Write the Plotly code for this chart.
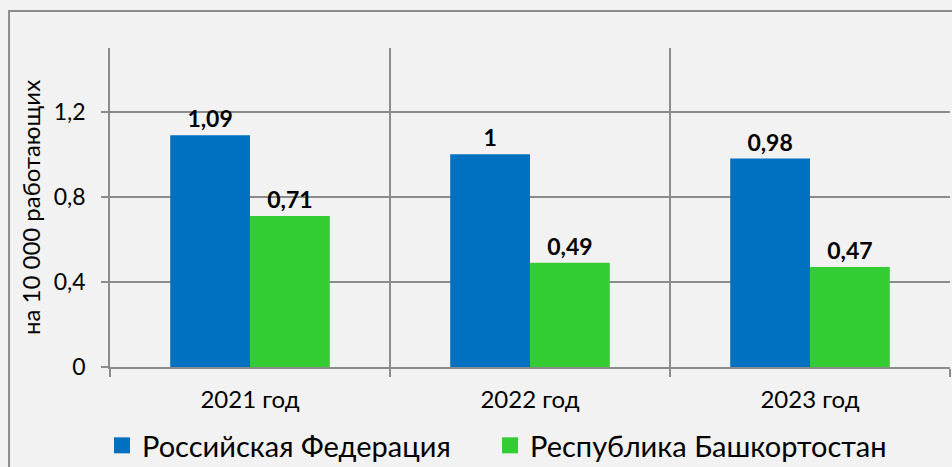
import plotly.graph_objects as go

categories = ["2021 год", "2022 год", "2023 год"]
rf_values = [1.09, 1.00, 0.98]
rb_values = [0.71, 0.49, 0.47]
series_names = ["Российская Федерация", "Республика Башкортостан"]
series_colors = ["#0070c0", "#33cc33"]
y_ticks = [0, 0.4, 0.8, 1.2]
y_tick_labels = ["0", "0,4", "0,8", "1,2"]
y_title = "на 10 000 работающих"

def fmt(v):
    return f"{v:g}".replace(".", ",")

FONT = "Lato, 'Open Sans', sans-serif"
GRID = "#8c8c8c"
BG = "#f2f2f2"

fig = go.Figure()
for name, vals, col in zip(series_names, [rf_values, rb_values], series_colors):
    fig.add_trace(go.Bar(
        x=categories, y=vals, name=name, showlegend=False,
        marker=dict(color=col, line=dict(width=0)),
        text=[fmt(v) for v in vals], textposition="outside",
        textfont=dict(size=23, color="black", family=FONT, weight="bold"),
        cliponaxis=False,
    ))
# legend entries (square swatches), each in its own legend box
for name, col, lg in zip(series_names, series_colors, ["legend", "legend2"]):
    fig.add_trace(go.Scatter(
        x=[None], y=[None], mode="markers", name=name, legend=lg,
        marker=dict(symbol="square", size=18, color=col),
    ))

legend_common = dict(orientation="h", xanchor="left", y=-0.246, yanchor="middle",
                     font=dict(size=29), bgcolor="rgba(0,0,0,0)", itemsizing="trace")
fig.update_layout(
    width=952, height=467,
    margin=dict(l=110, r=2, t=48, b=100, autoexpand=False),
    paper_bgcolor=BG, plot_bgcolor=BG,
    barmode="group", bargap=0.43, bargroupgap=0,
    font=dict(family=FONT, size=24, color="black"),
    showlegend=True,
    legend=dict(x=-0.0095, **legend_common),
    legend2=dict(x=0.4524, **legend_common),
    uniformtext=dict(minsize=10, mode="show"),
)
fig.update_xaxes(
    tickson="boundaries", showgrid=True, gridcolor=GRID, gridwidth=1.5,
    ticks="outside", ticklen=8, tickcolor=GRID, tickwidth=1.5,
    showline=True, linecolor=GRID, linewidth=1.5,
    tickfont=dict(size=24), ticklabelstandoff=10, automargin=False,
)
fig.update_yaxes(
    range=[0, 1.5], tickvals=y_ticks, ticktext=y_tick_labels,
    showgrid=True, gridcolor=GRID, gridwidth=1.5, zeroline=False,
    ticks="outside", ticklen=7, tickcolor=GRID, tickwidth=1.5,
    showline=True, linecolor=GRID, linewidth=1.5,
    tickfont=dict(size=23), ticklabelstandoff=11, automargin=False,
    title=dict(text=y_title, font=dict(size=24), standoff=6),
)
fig.add_shape(type="rect", xref="paper", yref="paper",
              x0=-0.1202, x1=1.03, y0=-0.6, y1=1.116,
              line=dict(color="#8c8c8c", width=2), fillcolor="rgba(0,0,0,0)", layer="below")

fig.write_html(
    "out.html",
    config={"displayModeBar": False},
    post_script="document.body.style.margin='0';document.body.style.background='#f2f2f2';",
)
